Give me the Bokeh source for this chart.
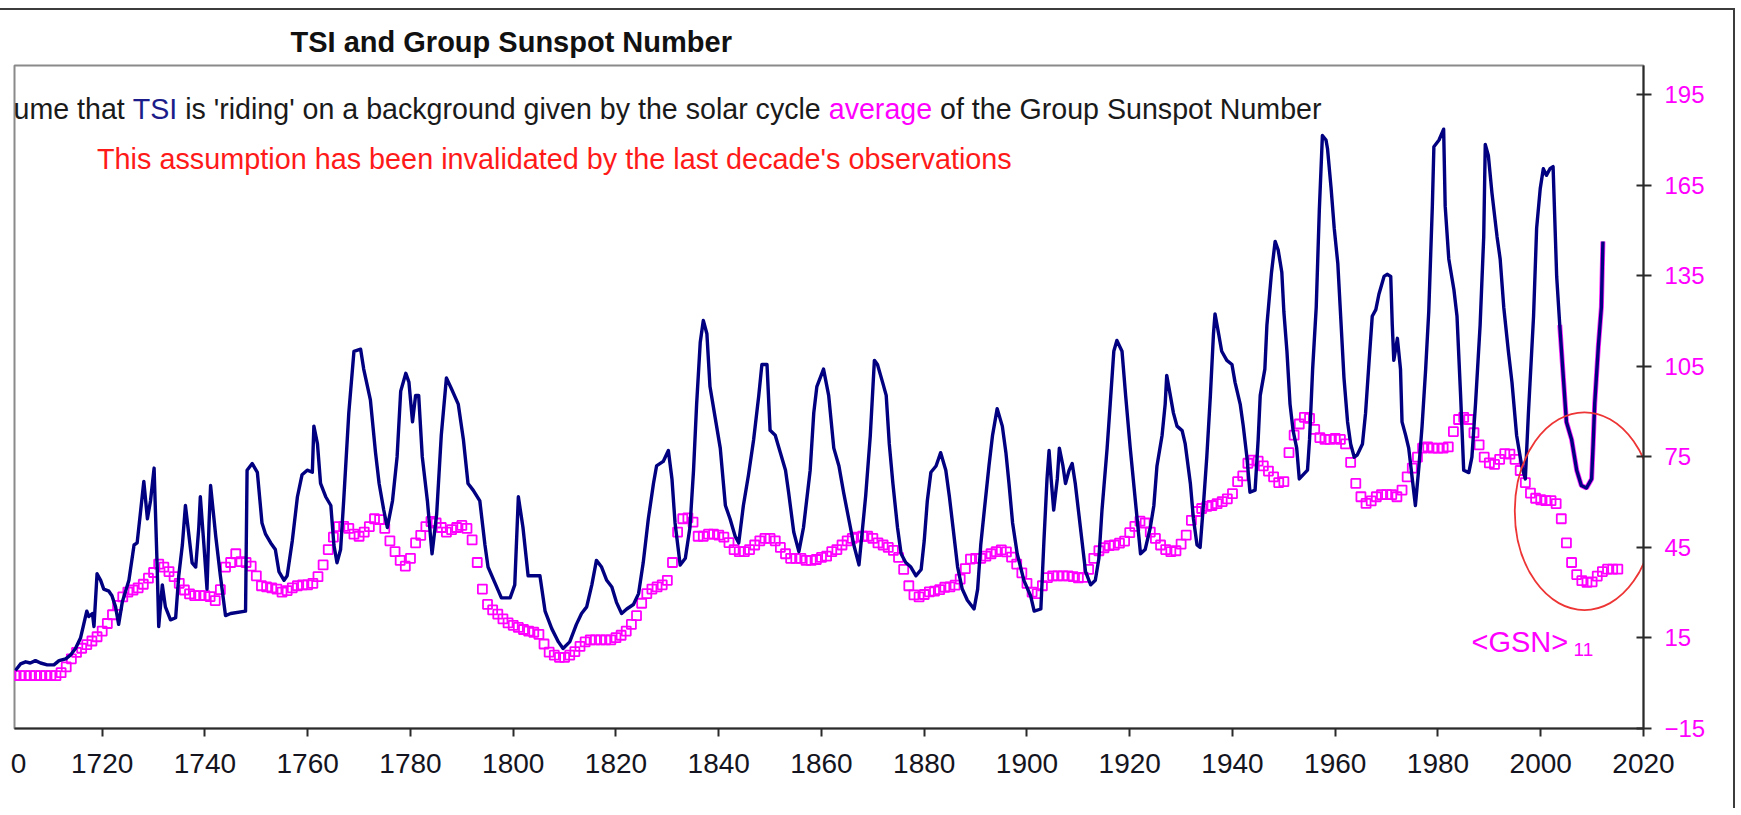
from bokeh.plotting import figure
from bokeh.models import Range1d, FixedTicker, Label
from bokeh.embed import file_html
from bokeh.resources import INLINE

# ---------------- data ----------------
tsi_years = [
    1703.1, 1704.1, 1705.1, 1706.0, 1707.0, 1708.0, 1709.3, 1710.6, 1711.6, 1712.9,
    1713.8, 1714.8, 1715.8, 1716.4, 1717.0, 1717.4, 1718.1, 1718.4, 1719.0, 1719.7,
    1720.3, 1721.3, 1721.9, 1722.6, 1723.2, 1723.9, 1725.2, 1726.2, 1726.8, 1727.5,
    1728.1, 1728.8, 1729.4, 1730.1, 1730.7, 1731.0, 1731.7, 1732.3, 1733.3, 1734.3,
    1734.9, 1735.6, 1736.2, 1736.9, 1737.5, 1738.2, 1738.8, 1739.1, 1739.8, 1740.4,
    1740.8, 1741.1, 1742.1, 1743.0, 1744.0, 1745.0, 1747.9, 1748.2, 1749.2, 1750.2,
    1751.1, 1751.8, 1752.8, 1753.7, 1754.4, 1755.4, 1756.0, 1757.0, 1758.0, 1758.9,
    1759.9, 1760.9, 1761.2, 1761.9, 1762.5, 1763.5, 1764.5, 1765.1, 1765.7, 1766.4,
    1767.0, 1768.0, 1769.0, 1770.3, 1770.9, 1772.2, 1773.2, 1773.9, 1774.8, 1775.5,
    1776.5, 1777.4, 1778.1, 1779.1, 1779.7, 1780.4, 1781.0, 1781.6, 1782.3, 1783.3,
    1784.2,
    1785.1, 1786.0, 1787.0, 1788.0, 1789.3, 1790.3, 1791.2, 1792.2, 1793.5, 1794.5,
    1795.1, 1796.4, 1797.7, 1799.4, 1800.3, 1801.0, 1801.9, 1802.9, 1803.9, 1805.2,
    1806.2, 1807.5, 1808.8, 1809.7, 1811.0, 1812.3, 1813.3, 1814.3, 1815.3, 1816.2,
    1817.2, 1818.2, 1819.2, 1820.1, 1821.1, 1822.1, 1823.4, 1824.4, 1825.3, 1826.3,
    1827.3, 1827.9, 1829.2, 1830.2, 1830.9, 1831.5, 1832.5, 1833.5, 1834.4, 1835.1,
    1835.7, 1836.4, 1837.0, 1837.7, 1838.3, 1839.3, 1840.3, 1841.3, 1842.2, 1843.2,
    1843.9, 1844.8, 1845.8, 1846.8, 1847.8, 1848.4, 1849.4, 1850.0, 1851.0, 1852.0,
    1853.0, 1853.6, 1854.6, 1855.6, 1856.5, 1857.8, 1858.5, 1859.1, 1860.4, 1861.4,
    1862.4, 1863.4, 1864.3, 1865.3, 1866.3, 1867.3,
    1868.6, 1869.5, 1870.3,
    1870.9, 1871.9, 1872.6, 1873.2, 1873.9, 1874.8, 1875.5, 1876.4, 1877.4, 1878.4,
    1879.4, 1880.0, 1880.6, 1881.3, 1882.3, 1883.2, 1884.2, 1884.9, 1885.5, 1886.5,
    1887.4, 1888.4, 1889.7, 1890.4, 1891.0, 1891.7, 1892.6, 1893.3, 1894.2, 1895.2,
    1895.9, 1896.5, 1897.2, 1898.1, 1899.4, 1900.7, 1901.4, 1902.7, 1903.3, 1903.9,
    1904.3, 1904.7, 1905.2, 1905.9, 1906.3, 1907.0, 1907.5, 1908.2, 1908.8, 1909.4,
    1910.4, 1911.4, 1912.4, 1913.3, 1914.0, 1914.6, 1915.6, 1916.2, 1916.9, 1917.5,
    1918.5, 1919.2, 1920.1, 1921.1, 1922.1, 1923.0, 1924.0, 1924.7, 1925.3, 1926.3,
    1926.9, 1927.2, 1927.9, 1928.5, 1929.2, 1930.2, 1930.8, 1931.8, 1932.4, 1933.1,
    1933.7, 1934.4, 1935.0, 1935.7, 1936.3, 1936.6, 1937.3, 1937.9, 1938.9, 1939.9,
    1940.5, 1941.5, 1942.1, 1942.8, 1943.4, 1944.4, 1945.0, 1945.4, 1946.3, 1946.7,
    1947.6, 1948.3, 1948.9, 1949.6, 1950.0, 1950.6, 1951.2, 1951.8, 1952.5, 1953.0,
    1954.6, 1955.0, 1955.6, 1956.3, 1956.9, 1957.5, 1958.2, 1958.5, 1959.2, 1959.8,
    1960.5, 1961.1, 1961.7, 1962.4, 1963.0, 1963.7, 1964.3, 1965.3, 1965.9, 1966.6,
    1967.2, 1967.9, 1968.5, 1969.5, 1970.1, 1970.8, 1971.1, 1971.4, 1972.1, 1972.7,
    1973.0, 1973.7, 1974.3, 1975.0, 1975.6, 1976.3, 1976.9, 1977.6, 1978.2, 1978.9,
    1979.2, 1980.2, 1981.1, 1981.4, 1982.1, 1983.1, 1983.7, 1984.4, 1985.0, 1986.0,
    1986.6, 1987.3, 1988.2, 1988.9, 1989.2, 1989.8, 1990.5, 1991.5, 1992.1, 1992.8,
    1993.7, 1994.4, 1995.3, 1996.3, 1997.0, 1997.6, 1998.6, 1999.2, 1999.9, 2000.5,
    2001.1, 2001.8, 2002.4, 2003.1, 2003.7, 2004.4, 2005.0, 2006.0, 2007.0, 2007.9,
    2008.9, 2009.9, 2010.2, 2010.5, 2011.2, 2011.8, 2012.1,
]
tsi_values = [
    4.2, 6.4, 7.1, 6.7, 7.5, 6.7, 6.1, 6.1, 7.5, 8.1,
    9.3, 11.5, 15.1, 19.5, 23.9, 22.1, 23.1, 18.8, 36.3, 34.1,
    31.2, 30.5, 29.0, 25.3, 19.5, 26.8, 34.1, 45.8, 46.5, 57.4,
    66.9, 54.5, 60.4, 71.3, 38.5, 18.8, 32.6, 25.3, 21.0, 21.7,
    35.6, 45.8, 58.9, 48.7, 39.9, 38.5, 51.6, 61.8, 45.8, 31.2,
    53.1, 65.5, 48.7, 35.6, 22.4, 23.1, 23.9, 70.6, 72.8, 69.9,
    53.1, 49.4, 46.5, 44.3, 37.0, 34.1, 35.6, 47.2, 61.8, 69.1,
    70.6, 69.9, 85.2, 79.3, 66.2, 61.8, 58.9, 45.8, 39.9, 44.3,
    60.4, 89.6, 110.0, 110.7, 104.1, 93.9, 76.4, 66.2, 57.4, 51.6,
    60.4, 75.0, 96.8, 102.7, 99.8, 86.6, 95.4, 95.4, 75.0, 60.4,
    42.9,
    56.0, 82.2, 101.2, 97.5, 92.5, 80.8, 66.2, 64.0, 60.4, 45.8,
    38.5, 33.4, 28.3, 28.3, 32.6, 61.8, 51.6, 35.6, 35.6, 35.6,
    23.9, 18.1, 13.7, 11.5, 13.7, 19.5, 23.1, 25.3, 32.6, 40.7,
    38.5, 34.1, 31.9, 26.8, 23.1, 24.6, 26.1, 29.7, 39.9, 54.5,
    66.2, 72.0, 73.5, 77.1, 67.7, 53.1, 39.2, 41.4, 51.6, 70.6,
    92.5, 112.9, 120.2, 115.8, 98.3, 88.1, 77.9, 58.9, 54.5, 48.7,
    46.5, 58.9, 69.1, 80.8, 95.4, 105.6, 105.6, 83.8, 82.2, 76.4,
    70.6, 63.3, 50.1, 43.6, 51.6, 70.6, 89.6, 98.3, 104.1, 95.4,
    77.9, 72.0, 63.3, 54.5, 45.8, 39.2,
    62.0, 82.0, 107.0,
    105.6, 99.7, 95.4, 79.3, 66.2, 51.6, 42.9, 40.0, 38.5, 35.6,
    37.7, 47.2, 60.4, 69.9, 72.0, 76.4, 70.6, 61.8, 53.1, 38.5,
    31.2, 27.5, 24.6, 31.2, 45.8, 57.4, 72.0, 82.2, 91.0, 85.2,
    76.4, 66.2, 53.1, 42.9, 34.1, 29.0, 23.9, 24.6, 47.2, 67.7,
    77.1, 67.7, 57.4, 67.7, 77.9, 72.0, 66.2, 70.6, 72.8, 66.2,
    51.6, 37.0, 32.6, 34.1, 41.4, 57.4, 77.9, 92.5, 110.0, 113.6,
    110.0, 95.4, 77.9, 60.4, 42.9, 44.3, 51.6, 58.9, 72.0, 82.2,
    92.5, 102.0, 95.4, 89.6, 85.2, 83.7, 79.3, 66.2, 54.5, 45.8,
    45.0, 60.4, 75.0, 95.4, 115.8, 122.4, 115.8, 110.0, 107.0, 105.6,
    99.7, 92.5, 85.2, 75.0, 63.3, 64.0, 80.8, 95.4, 104.1, 118.7,
    136.2, 146.4, 143.5, 136.2, 123.1, 110.0, 92.5, 83.7, 77.9, 67.7,
    70.6, 80.8, 104.1, 124.6, 156.7, 181.5, 180.0, 177.1, 163.9, 150.8,
    139.1, 120.2, 101.2, 86.6, 79.3, 74.9, 75.7, 79.3, 89.5, 107.0,
    121.6, 123.8, 128.9, 134.8, 135.5, 134.8, 118.7, 107.0, 114.3, 104.1,
    86.6, 82.2, 77.9, 67.7, 58.9, 72.0, 85.2, 104.1, 123.1, 158.1,
    177.8, 180.0, 183.6, 158.1, 140.6, 130.4, 121.6, 95.4, 70.6, 69.8,
    74.9, 92.5, 118.7, 147.9, 178.5, 174.9, 162.5, 147.9, 140.6, 124.6,
    110.0, 99.7, 82.2, 72.0, 67.7, 89.5, 121.6, 150.8, 163.9, 170.5,
    168.3, 170.5, 171.2, 134.8, 118.7, 101.2, 86.6, 80.8, 70.6, 65.5,
    64.7, 67.7, 79.3, 92.5, 111.4, 124.6, 146.4,
]
tsi_recent_from = 2003.7   # last stretch drawn with a magenta rim

gsn_years = list(range(1700, 2016))
gsn_values = [
    2.5, 2.5, 2.5, 2.5, 2.5, 2.5, 2.5, 2.5, 2.5, 2.5,          # 1700
    2.5, 2.5, 3.5, 5.4, 8.1, 10.2, 11.6, 12.8, 14.0, 15.4,     # 1710
    17.3, 19.8, 22.7, 25.8, 28.6, 30.2, 30.9, 31.6, 32.8, 34.8,  # 1720
    36.7, 39.5, 38.5, 37.0, 35.3, 33.1, 30.9, 29.6, 29.0, 29.0,  # 1730
    29.0, 28.7, 27.4, 31.0, 38.5, 40.0, 42.9, 40.3, 40.0, 38.8,  # 1740
    35.6, 32.3, 31.9, 31.6, 31.2, 30.2, 30.7, 31.6, 32.3, 32.6,  # 1750
    32.6, 33.1, 35.3, 39.2, 44.3, 48.4, 51.9, 52.0, 51.3, 49.4,  # 1760
    48.7, 50.1, 51.9, 54.5, 54.2, 51.3, 47.2, 43.6, 40.7, 38.8,  # 1770
    41.4, 46.5, 49.0, 51.9, 53.6, 53.1, 51.6, 50.1, 50.9, 51.6,  # 1780
    52.3, 51.3, 47.5, 40.0, 31.2, 26.1, 24.3, 22.9, 21.3, 20.0,  # 1790
    19.2, 18.5, 17.8, 17.3, 16.9, 16.2, 13.0, 10.3, 9.3, 8.6,    # 1800
    8.6, 9.3, 10.5, 12.2, 13.7, 14.4, 14.4, 14.4, 14.4, 14.4,    # 1810
    15.1, 15.9, 17.3, 19.5, 22.4, 26.5, 29.7, 31.2, 31.9, 32.6,  # 1820
    34.1, 40.0, 50.1, 54.5, 54.8, 53.4, 48.7, 48.7, 49.4, 49.4,  # 1830
    49.1, 48.4, 46.6, 44.3, 43.6, 43.6, 44.3, 45.8, 47.2, 48.0,  # 1840
    48.0, 47.2, 45.0, 42.9, 41.4, 41.4, 41.4, 40.7, 40.7, 41.0,  # 1850
    41.7, 42.1, 43.6, 44.3, 45.8, 47.2, 48.0, 48.4, 48.7, 48.7,  # 1860
    48.0, 46.5, 45.8, 45.0, 44.0, 41.7, 37.7, 32.3, 29.3, 28.6,  # 1870
    29.4, 30.3, 30.5, 31.0, 31.8, 31.9, 32.5, 34.5, 38.0, 41.1,  # 1880
    41.4, 41.4, 42.1, 42.9, 43.6, 44.2, 43.5, 41.8, 39.5, 36.6,  # 1890
    33.1, 30.2, 29.7, 32.3, 35.0, 35.6, 35.6, 35.6, 35.6, 35.3,  # 1900
    34.9, 35.1, 37.7, 41.4, 43.9, 44.9, 45.6, 45.8, 46.4, 47.1,  # 1910
    49.9, 52.0, 53.7, 53.1, 50.1, 48.0, 45.8, 44.3, 43.6, 43.9,  # 1920
    46.1, 49.1, 54.0, 56.9, 57.9, 58.6, 58.9, 59.5, 60.2, 61.1,  # 1930
    62.8, 66.8, 68.7, 72.9, 73.9, 73.6, 72.0, 70.3, 68.4, 66.5,  # 1940
    66.8, 76.4, 82.2, 85.9, 88.1, 87.8, 84.1, 81.4, 80.8, 80.8,  # 1950
    81.1, 80.8, 79.3, 73.2, 66.2, 61.8, 59.6, 60.4, 61.8, 62.5,  # 1960
    62.5, 62.5, 61.8, 64.0, 68.4, 71.3, 74.9, 77.9, 78.3, 77.9,  # 1970
    77.9, 77.9, 78.3, 83.4, 87.4, 88.1, 87.4, 83.0, 79.0, 74.9,  # 1980
    73.0, 72.5, 74.2, 76.1, 75.9, 74.2, 70.5, 66.5, 63.0, 61.3,  # 1990
    60.8, 60.5, 60.5, 59.5, 54.5, 46.5, 40.0, 36.0, 34.0, 33.4,  # 2000
    33.6, 35.5, 37.0, 37.8, 37.8, 37.8,                          # 2010
]
assert len(tsi_years) == len(tsi_values)
assert len(gsn_years) == len(gsn_values)

x_ticks = [1720, 1740, 1760, 1780, 1800, 1820, 1840, 1860, 1880, 1900,
           1920, 1940, 1960, 1980, 2000, 2020]
x_cut_text = "0"        # last digit of the "1700" label, the only part left in the crop
y_ticks = [-15, 15, 45, 75, 105, 135, 165, 195]

ellipse_x, ellipse_y, ellipse_w, ellipse_h = 2008.5, 57.0, 27.1, 65.5

title_text = "TSI and Group Sunspot Number"
subtitle_parts = [
    ("ume that ", "#1a1a1a"),
    ("TSI", "#1c1c8a"),
    (" is 'riding' on a background given by the solar cycle ", "#1a1a1a"),
    ("average", "#ff00ff"),
    (" of the Group Sunspot Number", "#1a1a1a"),
]
red_text = "This assumption has been invalidated by the last decade's observations"
gsn_label = "<GSN>"
gsn_sub = "11"

# ---------------- layout geometry (page pixels, page origin at 0,0) ----------------
FONT = "Liberation Sans"
NARROW = "'Liberation Sans Narrow', 'Liberation Sans'"
FRAME_L, FRAME_R, FRAME_T, FRAME_B = 14.0, 1643.0, 65.0, 728.0
X_START, X_END = 1702.93, 2020.0
Y_START, Y_END = -15.0, 204.7


def dx(px):
    return X_START + (px - FRAME_L) * (X_END - X_START) / (FRAME_R - FRAME_L)


def dy(py):
    return Y_END - (py - FRAME_T) * (Y_END - Y_START) / (FRAME_B - FRAME_T)


# Arial / Liberation Sans advance widths (1/1000 em)
AW = {' ': 278, "'": 191, 'a': 556, 'b': 556, 'c': 500, 'd': 556, 'e': 556,
      'f': 278, 'g': 556, 'h': 556, 'i': 222, 'k': 500, 'l': 222, 'm': 833,
      'n': 556, 'o': 556, 'p': 556, 'r': 333, 's': 500, 't': 278, 'u': 556,
      'v': 500, 'y': 500, 'G': 778, 'I': 278, 'N': 722, 'S': 667, 'T': 611}


def text_w(s, size):
    return sum(AW.get(c, 556) for c in s) * size / 1000.0


p = figure(width=1735, height=800,
           x_range=Range1d(X_START, X_END), y_range=Range1d(Y_START, Y_END),
           output_backend="svg", toolbar_location=None, y_axis_location="right",
           min_border_left=14, min_border_right=92, min_border_top=55, min_border_bottom=82,
           background_fill_color="white", border_fill_color="white",
           outline_line_color="#8a8a8a", outline_line_width=2)
p.margin = (8, 0, 0, 0)
p.styles = {"border-top": "2px solid #3c3c3c", "border-right": "2px solid #3c3c3c"}
p.grid.visible = False

p.title.text = title_text
p.title.align = "left"
p.title.offset = 276
p.title.standoff = 15
p.title.text_font = FONT
p.title.text_font_style = "bold"
p.title.text_font_size = "29px"
p.title.text_color = "#111111"

# bottom axis: visible tick marks drawn as minor ticks, labels on (unmarked) major ticks,
# plus the cropped "0" of the 1700 label at the left edge
cut_tick = round(dx(18.0), 3)
xa = p.xaxis[0]
xa.ticker = FixedTicker(ticks=x_ticks + [cut_tick], minor_ticks=x_ticks)
xa.major_label_overrides = {cut_tick: x_cut_text}
xa.axis_line_color = "#2a2a2a"
xa.axis_line_width = 2
xa.major_tick_line_color = None
xa.major_tick_in = 0
xa.major_tick_out = 8
xa.minor_tick_line_color = "#2a2a2a"
xa.minor_tick_line_width = 2
xa.minor_tick_in = 0
xa.minor_tick_out = 8
xa.major_label_text_font = NARROW
xa.major_label_text_font_size = "28px"
xa.major_label_text_color = "#141420"
xa.major_label_standoff = 17

ya = p.yaxis[0]
ya.ticker = FixedTicker(ticks=y_ticks)
ya.axis_line_color = "#2a2a2a"
ya.axis_line_width = 2
ya.major_tick_line_color = "#2a2a2a"
ya.major_tick_line_width = 2
ya.major_tick_in = 7
ya.major_tick_out = 8
ya.minor_tick_line_color = None
ya.major_label_text_font = FONT
ya.major_label_text_font_size = "24px"
ya.major_label_text_color = "#ff00ff"
ya.major_label_standoff = 13

# ---------------- glyphs ----------------
rx = [x for x in tsi_years if x >= tsi_recent_from]
ry = [v for x, v in zip(tsi_years, tsi_values) if x >= tsi_recent_from]
p.line(rx, ry, line_color="#ff00ff", line_width=5.0, line_alpha=0.85)
p.scatter(gsn_years, gsn_values, marker="square", size=9, fill_color=None,
          line_color="#ff00ff", line_width=1.8)
p.line(tsi_years, tsi_values, line_color="#000080", line_width=3.4, line_join="round")
p.ellipse(x=[ellipse_x], y=[ellipse_y], width=[ellipse_w], height=[ellipse_h],
          fill_color=None, line_color="#ee3535", line_width=1.8)

# ---------------- texts ----------------
SUB_SIZE = 28.6
cx = 13.0
for txt, col in subtitle_parts:
    lead = len(txt) - len(txt.lstrip(" "))
    cx += text_w(txt[:lead], SUB_SIZE)
    body = txt.strip(" ")
    p.add_layout(Label(x=dx(cx), y=dy(108), text=body, text_align="left",
                       text_baseline="middle", text_font=FONT,
                       text_font_size=f"{SUB_SIZE}px", text_color=col))
    cx += text_w(txt[lead:], SUB_SIZE)

p.add_layout(Label(x=dx(96.5), y=dy(158), text=red_text, text_align="left",
                   text_baseline="middle", text_font=FONT,
                   text_font_size="28.8px", text_color="#ff1a1a"))

p.add_layout(Label(x=dx(1471), y=dy(641.5), text=gsn_label, text_align="left",
                   text_baseline="middle", text_font=FONT,
                   text_font_size="29px", text_color="#ff00ff"))
p.add_layout(Label(x=dx(1573), y=dy(648.5), text=gsn_sub, text_align="left",
                   text_baseline="middle", text_font=FONT,
                   text_font_size="19px", text_color="#ff00ff"))

open("out.html", "w").write(file_html(p, INLINE, title="TSI and Group Sunspot Number"))
